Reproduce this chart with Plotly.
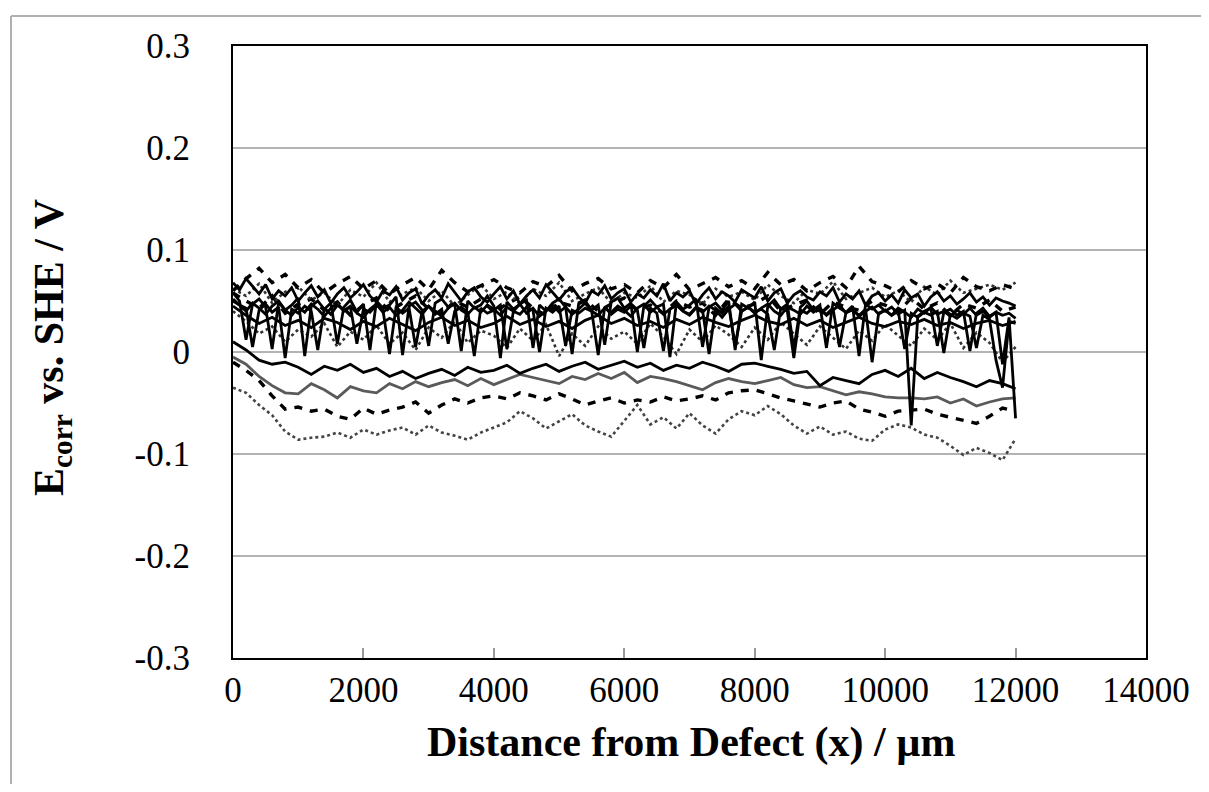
import plotly.graph_objects as go

# Distance from defect (µm): coarse and fine scan grids
DISTANCE = list(range(0, 12001, 200))
DISTANCE_FINE = list(range(0, 12001, 100))

# Ecorr vs SHE (V) (coarse grid)
DOT_LOW = [
    -0.035, -0.040, -0.052, -0.062, -0.078, -0.086, -0.084, -0.083, -0.079, -0.084,
    -0.076, -0.081, -0.077, -0.074, -0.081, -0.072, -0.079, -0.082, -0.086, -0.079,
    -0.074, -0.069, -0.058, -0.065, -0.075, -0.068, -0.061, -0.072, -0.078, -0.083,
    -0.068, -0.052, -0.071, -0.064, -0.075, -0.060, -0.072, -0.080, -0.066, -0.058,
    -0.062, -0.053, -0.061, -0.072, -0.080, -0.073, -0.081, -0.078, -0.085, -0.087,
    -0.076, -0.071, -0.074, -0.081, -0.084, -0.092, -0.101, -0.094, -0.099, -0.106,
    -0.085]
DASH_LOW = [
    -0.010, -0.018, -0.028, -0.043, -0.056, -0.054, -0.058, -0.056, -0.063, -0.066,
    -0.055, -0.061, -0.057, -0.054, -0.049, -0.060, -0.052, -0.046, -0.050, -0.045,
    -0.043, -0.046, -0.040, -0.043, -0.047, -0.041, -0.046, -0.052, -0.048, -0.045,
    -0.050, -0.047, -0.049, -0.044, -0.048, -0.046, -0.043, -0.047, -0.040, -0.038,
    -0.037, -0.041, -0.045, -0.048, -0.051, -0.054, -0.050, -0.048, -0.056, -0.059,
    -0.063, -0.058, -0.057, -0.056, -0.061, -0.064, -0.067, -0.070, -0.063, -0.055,
    -0.058]
GRAY_SOLID = [
    -0.005, -0.012, -0.024, -0.033, -0.040, -0.041, -0.031, -0.037, -0.045, -0.034,
    -0.038, -0.040, -0.031, -0.036, -0.029, -0.034, -0.030, -0.027, -0.033, -0.026,
    -0.032, -0.027, -0.022, -0.025, -0.028, -0.031, -0.024, -0.027, -0.021, -0.026,
    -0.020, -0.030, -0.024, -0.026, -0.029, -0.033, -0.037, -0.030, -0.026, -0.029,
    -0.031, -0.028, -0.025, -0.032, -0.035, -0.034, -0.038, -0.042, -0.039, -0.041,
    -0.044, -0.045, -0.045, -0.046, -0.044, -0.050, -0.046, -0.053, -0.049, -0.046,
    -0.045]
BLACK_LOW = [
    0.010, 0.002, -0.008, -0.012, -0.010, -0.015, -0.022, -0.014, -0.018, -0.012,
    -0.020, -0.016, -0.024, -0.019, -0.026, -0.021, -0.017, -0.023, -0.015, -0.020,
    -0.018, -0.013, -0.021, -0.016, -0.012, -0.019, -0.014, -0.010, -0.017, -0.013,
    -0.009, -0.015, -0.011, -0.018, -0.013, -0.016, -0.010, -0.014, -0.019, -0.012,
    -0.011, -0.014, -0.017, -0.021, -0.019, -0.033, -0.025, -0.028, -0.031, -0.022,
    -0.018, -0.024, -0.016, -0.026, -0.020, -0.025, -0.029, -0.034, -0.028, -0.031,
    -0.036]
TOP_SOLID_3 = [
    0.045, 0.036, 0.028, 0.034, 0.026, 0.031, 0.024, 0.033, 0.029, 0.022,
    0.030, 0.025, 0.033, 0.027, 0.021, 0.029, 0.034, 0.026, 0.031, 0.024,
    0.028, 0.035, 0.027, 0.032, 0.025, 0.030, 0.023, 0.031, 0.036, 0.028,
    0.033, 0.026, 0.030, 0.024, 0.032, 0.027, 0.034, 0.029, 0.025, 0.031,
    0.036, 0.030, 0.027, 0.033, 0.026, 0.031, 0.024, 0.029, 0.034, 0.028,
    0.025, 0.030, 0.027, 0.032, 0.026, 0.029, 0.023, 0.028, 0.031, 0.026,
    0.030]
TOP_DASH_1 = [
    0.060, 0.072, 0.082, 0.068, 0.076, 0.063, 0.071, 0.058, 0.067, 0.074,
    0.062, 0.070, 0.057, 0.066, 0.073, 0.061, 0.080, 0.068, 0.059, 0.065,
    0.071, 0.063, 0.058, 0.069, 0.064, 0.075, 0.060, 0.067, 0.072, 0.062,
    0.066, 0.058, 0.070, 0.063, 0.076, 0.061, 0.067, 0.073, 0.064, 0.070,
    0.062, 0.078, 0.066, 0.071, 0.060, 0.068, 0.074, 0.063, 0.084, 0.069,
    0.065, 0.059, 0.070, 0.062, 0.067, 0.058, 0.073, 0.064, 0.060, 0.066,
    0.062]
TOP_DASH_2 = [
    0.058, 0.050, 0.043, 0.055, 0.038, 0.047, 0.052, 0.041, 0.049, 0.036,
    0.046, 0.053, 0.040, 0.048, 0.055, 0.042, 0.037, 0.050, 0.044, 0.052,
    0.039, 0.047, 0.054, 0.043, 0.036, 0.049, 0.045, 0.051, 0.040, 0.047,
    0.053, 0.041, 0.046, 0.038, 0.050, 0.044, 0.048, 0.036, 0.052, 0.043,
    0.047, 0.055, 0.040, 0.046, 0.051, 0.037, 0.049, 0.044, 0.041, 0.050,
    0.046, 0.039, 0.053, 0.042, 0.048, 0.036, 0.047, 0.043, 0.051, 0.040,
    0.044]
TOP_DOT_1 = [
    0.062, 0.055, 0.067, 0.048, 0.059, 0.064, 0.051, 0.058, 0.046, 0.061,
    0.054, 0.068, 0.049, 0.057, 0.063, 0.050, 0.060, 0.045, 0.056, 0.066,
    0.052, 0.059, 0.047, 0.062, 0.055, 0.068, 0.050, 0.057, 0.063, 0.048,
    0.058, 0.053, 0.065, 0.049, 0.060, 0.056, 0.047, 0.062, 0.054, 0.059,
    0.051, 0.066, 0.055, 0.048, 0.061, 0.057, 0.069, 0.052, 0.058, 0.063,
    0.054, 0.060, 0.049, 0.064, 0.056, 0.070, 0.058, 0.062, 0.066, 0.061,
    0.068]
TOP_DOT_2 = [
    0.040, 0.030, 0.018, 0.025, 0.010, 0.022, 0.015, 0.028, 0.005, 0.020,
    0.012, 0.026, 0.008, 0.019, 0.002, 0.024, 0.014, 0.030, 0.009, 0.021,
    0.016, 0.004, 0.023, 0.011, 0.027, -0.004, 0.018, 0.006, 0.025, 0.013,
    0.020, 0.008, 0.028, 0.015, -0.002, 0.022, 0.010, 0.026, 0.017, 0.005,
    0.024, 0.012, 0.029, 0.018, 0.007, 0.025, 0.014, 0.003, 0.021, 0.011,
    0.027, 0.016, 0.006, 0.023, 0.012, 0.028, 0.004, 0.019, 0.009, -0.010,
    0.005]

# Fine-grid scans (100 µm step)
SPIKE_A = [
    0.058, 0.050, 0.012, 0.047, 0.052, 0.044, 0.003, 0.049, 0.041, 0.046,
    0.053, -0.004, 0.045, 0.050, 0.042, 0.048, 0.008, 0.044, 0.051, 0.039,
    0.047, 0.002, 0.050, 0.043, 0.046, 0.054, -0.003, 0.045, 0.049, 0.041,
    0.006, 0.048, 0.052, 0.044, 0.047, 0.001, 0.050, 0.043, 0.046, 0.055,
    0.045, -0.006, 0.049, 0.042, 0.047, 0.051, 0.004, 0.046, 0.040, 0.048,
    0.052, 0.044, -0.002, 0.047, 0.050, 0.041, 0.046, 0.007, 0.049, 0.053,
    0.043, 0.048, 0.000, 0.045, 0.051, 0.044, 0.047, -0.005, 0.049, 0.042,
    0.046, 0.052, 0.005, 0.044, 0.048, 0.041, 0.050, 0.002, 0.047, 0.043,
    0.049, -0.008, 0.045, 0.051, 0.042, 0.047, 0.003, 0.044, 0.050, 0.041,
    0.046, 0.004, 0.048, 0.043, 0.039, 0.045, -0.004, 0.047, 0.042, 0.046,
    0.040, 0.044, 0.037, 0.041, -0.072, 0.035, 0.040, 0.043, 0.006, 0.039,
    0.042, 0.036, 0.040, 0.001, 0.038, 0.043, 0.035, 0.039, -0.012, 0.034,
    -0.065]
SPIKE_B = [
    0.050, 0.046, 0.043, 0.005, 0.041, 0.047, 0.039, 0.044, -0.006, 0.042,
    0.038, 0.045, 0.040, 0.002, 0.043, 0.037, 0.046, 0.041, 0.044, 0.008,
    0.042, 0.039, 0.046, 0.041, -0.002, 0.044, 0.038, 0.043, 0.005, 0.040,
    0.045, 0.037, 0.042, 0.008, 0.040, 0.044, 0.039, -0.004, 0.043, 0.038,
    0.041, 0.046, 0.003, 0.040, 0.037, 0.044, 0.041, 0.000, 0.043, 0.039,
    0.045, 0.006, 0.041, 0.038, 0.043, 0.040, -0.003, 0.044, 0.037, 0.042,
    0.039, 0.045, 0.041, 0.004, 0.043, 0.038, 0.001, 0.042, 0.046, 0.040,
    0.037, 0.044, 0.041, -0.002, 0.043, 0.038, 0.045, 0.007, 0.040, 0.044,
    0.039, 0.042, 0.037, 0.002, 0.043, 0.040, -0.006, 0.041, 0.038, 0.044,
    0.040, 0.037, 0.043, 0.005, 0.039, 0.041, 0.036, 0.042, -0.010, 0.038,
    0.041, 0.036, 0.040, 0.003, 0.038, 0.034, 0.039, 0.036, 0.040, -0.001,
    0.037, 0.033, 0.038, 0.035, 0.004, 0.036, 0.032, -0.008, -0.035, 0.030,
    0.028]
TOP_SOLID_1 = [
    0.068, 0.061, 0.072, 0.064, 0.057, 0.066, 0.052, 0.060, 0.055, 0.063,
    0.050, 0.058, 0.065, 0.054, 0.061, 0.048, 0.057, 0.063, 0.053, 0.059,
    0.066, 0.055, 0.049, 0.060, 0.056, 0.064, 0.051, 0.058, 0.062, 0.047,
    0.056, 0.061, 0.053, 0.067, 0.058, 0.050, 0.059, 0.063, 0.054, 0.049,
    0.057, 0.064, 0.052, 0.060, 0.047, 0.055, 0.061, 0.053, 0.066, 0.058,
    0.051, 0.059, 0.063, 0.054, 0.048, 0.060, 0.056, 0.065, 0.052, 0.058,
    0.062, 0.049, 0.057, 0.053, 0.061, 0.055, 0.067, 0.050, 0.058, 0.054,
    0.060, 0.047, 0.056, 0.063, 0.052, 0.059, 0.055, 0.049, 0.061, 0.057,
    0.053, 0.064, 0.050, 0.058, 0.062, 0.048, 0.056, 0.060, 0.054, 0.051,
    0.059, 0.055, 0.063, 0.049, 0.057, 0.052, 0.060, 0.046, 0.055, 0.058,
    0.050, 0.056, 0.048, 0.061, 0.053, 0.057, 0.045, 0.054, 0.059, 0.050,
    0.055, 0.047, 0.052, 0.058, 0.049, 0.054, 0.046, 0.053, 0.050, 0.048,
    0.045]
TOP_SOLID_2 = [
    0.052, 0.046, 0.040, 0.048, 0.043, 0.037, 0.045, 0.050, 0.041, 0.036,
    0.044, 0.039, 0.047, 0.042, 0.035, 0.043, 0.048, 0.040, 0.045, 0.038,
    0.034, 0.042, 0.047, 0.039, 0.044, 0.036, 0.041, 0.049, 0.043, 0.037,
    0.045, 0.040, 0.035, 0.043, 0.048, 0.041, 0.037, 0.044, 0.039, 0.046,
    0.042, 0.036, 0.044, 0.040, 0.047, 0.038, 0.043, 0.035, 0.041, 0.046,
    0.039, 0.044, 0.037, 0.042, 0.048, 0.040, 0.036, 0.043, 0.039, 0.045,
    0.041, 0.035, 0.043, 0.047, 0.039, 0.044, 0.037, 0.042, 0.046, 0.040,
    0.036, 0.043, 0.039, 0.045, 0.041, 0.034, 0.042, 0.047, 0.040, 0.044,
    0.038, 0.043, 0.047, 0.040, 0.036, 0.044, 0.041, 0.037, 0.045, 0.039,
    0.043, 0.036, 0.041, 0.046, 0.038, 0.042, 0.035, 0.040, 0.044, 0.037,
    0.041, 0.036, 0.043, 0.039, 0.034, 0.042, 0.038, 0.044, 0.037, 0.040,
    0.035, 0.041, 0.037, 0.043, 0.036, 0.040, 0.034, 0.039, 0.036, 0.038,
    0.033]

X_TICKS = [0, 2000, 4000, 6000, 8000, 10000, 12000, 14000]
X_TICK_TEXT = ["0", "2000", "4000", "6000", "8000", "10000", "12000", "14000"]
Y_TICKS = [-0.3, -0.2, -0.1, 0, 0.1, 0.2, 0.3]
Y_TICK_TEXT = ["-0.3", "-0.2", "-0.1", "0", "0.1", "0.2", "0.3"]

SERIES = [
    (DISTANCE, DOT_LOW, "#444444", "dot", 2.6),
    (DISTANCE, DASH_LOW, "#000000", "8px,8px", 3.4),
    (DISTANCE, GRAY_SOLID, "#5a5a5a", "solid", 2.8),
    (DISTANCE, BLACK_LOW, "#000000", "solid", 2.8),
    (DISTANCE, TOP_DOT_2, "#333333", "dot", 2.6),
    (DISTANCE, TOP_SOLID_3, "#000000", "solid", 2.8),
    (DISTANCE, TOP_DASH_2, "#000000", "8px,8px", 3.4),
    (DISTANCE_FINE, TOP_SOLID_2, "#000000", "solid", 2.8),
    (DISTANCE, TOP_DOT_1, "#333333", "dot", 2.6),
    (DISTANCE_FINE, TOP_SOLID_1, "#000000", "solid", 2.8),
    (DISTANCE, TOP_DASH_1, "#000000", "8px,8px", 3.4),
    (DISTANCE_FINE, SPIKE_B, "#000000", "solid", 2.8),
    (DISTANCE_FINE, SPIKE_A, "#000000", "solid", 2.8),
]

fig = go.Figure()
for xs, ys, col, dash, w in SERIES:
    assert len(ys) == len(xs)
    fig.add_trace(go.Scatter(x=xs, y=ys, mode="lines",
                             line=dict(color=col, dash=dash, width=w),
                             showlegend=False, hoverinfo="skip"))

FONT = "Liberation Serif"
# page has an 8px body margin; plot area at page x 233..1146, y 46..658
fig.update_layout(
    width=1193, height=776,
    margin=dict(l=225, r=55, t=38, b=126),
    paper_bgcolor="white", plot_bgcolor="white",
    font=dict(family=FONT, color="black", size=35),
    showlegend=False,
    xaxis=dict(range=[0, 14000], tickvals=X_TICKS, ticktext=X_TICK_TEXT,
               ticks="inside", ticklen=10,
               tickcolor="#999999", tickwidth=1.5, showgrid=False, zeroline=False,
               showline=True, linecolor="black", linewidth=2, mirror=True,
               tickfont=dict(family=FONT, size=35), ticklabelstandoff=0),
    yaxis=dict(range=[-0.3, 0.3], tickvals=Y_TICKS, ticktext=Y_TICK_TEXT,
               ticks="", showgrid=True, gridcolor="#b3b3b3", gridwidth=1.5,
               zeroline=False, showline=True, linecolor="black", linewidth=2,
               mirror=True, tickfont=dict(family=FONT, size=35),
               ticklabelstandoff=34),
    annotations=[
        dict(text="<b>Distance from Defect (x) / µm</b>", xref="paper", yref="paper",
             x=(691 - 233) / 913, y=(658 - 742) / 612, xanchor="center", yanchor="middle",
             showarrow=False, font=dict(family=FONT, size=42)),
        dict(text="<b>E<sub>corr</sub> vs. SHE / V</b>", xref="paper", yref="paper",
             x=(52 - 233) / 913, y=(658 - 348) / 612, xanchor="center", yanchor="middle",
             textangle=-90, showarrow=False, font=dict(family=FONT, size=42)),
    ],
    shapes=[
        dict(type="line", xref="paper", yref="paper",
             x0=(11 - 233) / 913, x1=(11 - 233) / 913,
             y0=(658 - 16) / 612, y1=(658 - 800) / 612,
             line=dict(color="#b0b0b0", width=2)),
        dict(type="line", xref="paper", yref="paper",
             x0=(11 - 233) / 913, x1=(1215 - 233) / 913,
             y0=(658 - 16) / 612, y1=(658 - 16) / 612,
             line=dict(color="#b0b0b0", width=2)),
    ],
)

fig.write_html("out.html")
